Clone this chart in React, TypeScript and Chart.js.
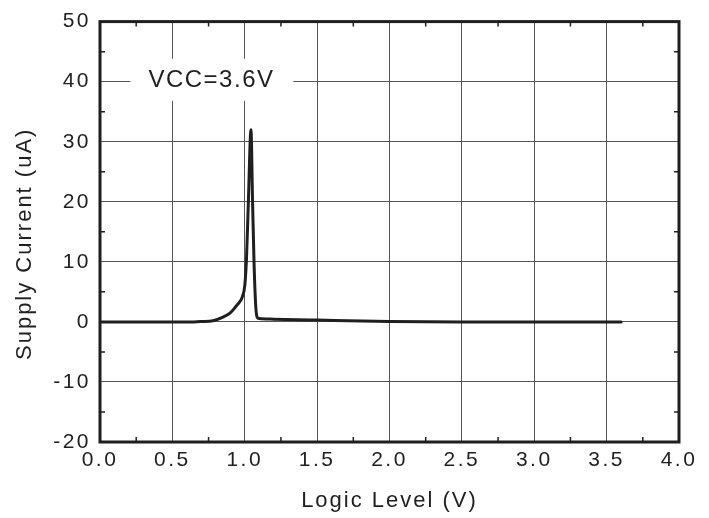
import { useEffect, useRef } from "react";
import { Chart, registerables } from "chart.js";

Chart.register(...registerables);

// ---- data ----
const logicLevel = [
  0, 0.5, 0.65, 0.7, 0.78, 0.85, 0.9, 0.94, 0.97, 0.985, 1.0, 1.012, 1.025,
  1.043, 1.054, 1.064, 1.075, 1.085, 1.1, 1.2, 1.5, 2.0, 2.5, 3.0, 3.6,
];
const supplyCurrent = [
  0, 0, 0, 0.05, 0.2, 0.8, 1.5, 2.6, 3.5, 4.3, 6, 10.5, 20, 32, 20, 10, 3,
  0.8, 0.55, 0.45, 0.3, 0.08, 0, 0, 0,
];
const xMinorTicks = [0.25, 0.75, 1.25, 1.75, 2.25, 2.75, 3.25, 3.75];
const yMinorTicks = [45, 35, 25, 15, 5, -5, -15];
const annotationText = "VCC=3.6V";
const xTitle = "Logic Level (V)";
const yTitle = "Supply Current (uA)";

const FONT = '"Liberation Sans", Arial, sans-serif';
const INK = "#1f1f1f";

const framePlugin = {
  id: "frame",
  beforeDraw(chart: any) {
    (chart.ctx as any).letterSpacing = "2px";
  },
  beforeDatasetsDraw(chart: any) {
    const ctx = chart.ctx as any;
    const xs = chart.scales.x;
    const ys = chart.scales.y;
    const x1 = xs.getPixelForValue(0.21);
    const x2 = xs.getPixelForValue(1.335);
    const y1 = ys.getPixelForValue(43.8);
    const y2 = ys.getPixelForValue(36.8);
    ctx.save();
    ctx.fillStyle = "#ffffff";
    ctx.fillRect(x1, y1, x2 - x1, y2 - y1);
    ctx.letterSpacing = "1.5px";
    ctx.font = `24px ${FONT}`;
    ctx.fillStyle = INK;
    ctx.textAlign = "center";
    ctx.textBaseline = "middle";
    ctx.fillText(annotationText, xs.getPixelForValue(0.77), ys.getPixelForValue(40.2));
    ctx.restore();
    ctx.letterSpacing = "2px";
  },
  afterDatasetsDraw(chart: any) {
    (chart.ctx as any).letterSpacing = "2.5px";
  },
  afterDraw(chart: any) {
    const ctx = chart.ctx as any;
    const { left, right, top, bottom } = chart.chartArea;
    const xs = chart.scales.x;
    const ys = chart.scales.y;
    ctx.save();
    ctx.strokeStyle = INK;
    ctx.lineWidth = 1.5;
    ctx.beginPath();
    const len = 5;
    xMinorTicks.forEach((v) => {
      const px = xs.getPixelForValue(v);
      ctx.moveTo(px, bottom);
      ctx.lineTo(px, bottom - len);
      ctx.moveTo(px, top);
      ctx.lineTo(px, top + len);
    });
    yMinorTicks.forEach((v) => {
      const py = ys.getPixelForValue(v);
      ctx.moveTo(left, py);
      ctx.lineTo(left + len, py);
      ctx.moveTo(right, py);
      ctx.lineTo(right - len, py);
    });
    ctx.stroke();
    ctx.lineWidth = 3;
    ctx.strokeRect(left, top, right - left, bottom - top);

    // y axis title
    ctx.letterSpacing = "2px";
    ctx.font = `22px ${FONT}`;
    ctx.fillStyle = INK;
    ctx.textAlign = "center";
    ctx.textBaseline = "middle";
    ctx.translate(25, ys.getPixelForValue(15) + 12);
    ctx.rotate(-Math.PI / 2);
    ctx.fillText(yTitle, 0, 0);
    ctx.restore();
    ctx.letterSpacing = "0px";
  },
};

export default function App() {
  const ref = useRef<HTMLCanvasElement | null>(null);

  useEffect(() => {
    document.body.style.margin = "0";
    const canvas = ref.current;
    if (!canvas) return;
    const chart = new Chart(canvas, {
      type: "line",
      data: {
        datasets: [
          {
            data: logicLevel.map((x, i) => ({ x, y: supplyCurrent[i] })),
            borderColor: INK,
            borderWidth: 3,
            pointRadius: 0,
            fill: false,
            cubicInterpolationMode: "monotone",
            borderJoinStyle: "round",
            borderCapStyle: "round",
          },
        ],
      },
      options: {
        animation: false,
        responsive: false,
        devicePixelRatio: 1,
        layout: { padding: { left: 0, right: 30, top: 21, bottom: 0 } },
        plugins: {
          legend: { display: false },
          tooltip: { enabled: false },
        },
        scales: {
          x: {
            type: "linear",
            min: 0,
            max: 4,
            grid: { color: "#555", lineWidth: 1, drawTicks: false },
            border: { display: false },
            ticks: {
              stepSize: 0.5,
              autoSkip: false,
              maxRotation: 0,
              padding: 6,
              z: 1,
              color: INK,
              font: { family: FONT, size: 21 },
              callback: (v: any) => Number(v).toFixed(1),
            },
            title: {
              display: true,
              text: xTitle,
              color: INK,
              font: { family: FONT, size: 22 },
              padding: { top: 0, bottom: 4 },
            },
            afterFit: (s: any) => {
              s.height = 76;
            },
          },
          y: {
            type: "linear",
            min: -20,
            max: 50,
            grid: { color: "#555", lineWidth: 1, drawTicks: false },
            border: { display: false },
            ticks: {
              stepSize: 10,
              autoSkip: false,
              padding: 9,
              z: 1,
              color: INK,
              font: { family: FONT, size: 21 },
            },
            title: { display: false },
            afterFit: (s: any) => {
              s.width = 100;
            },
          },
        },
      },
      plugins: [framePlugin],
    } as any);
    return () => chart.destroy();
  }, []);

  return <canvas ref={ref} width={709} height={518} style={{ display: "block" }} />;
}
